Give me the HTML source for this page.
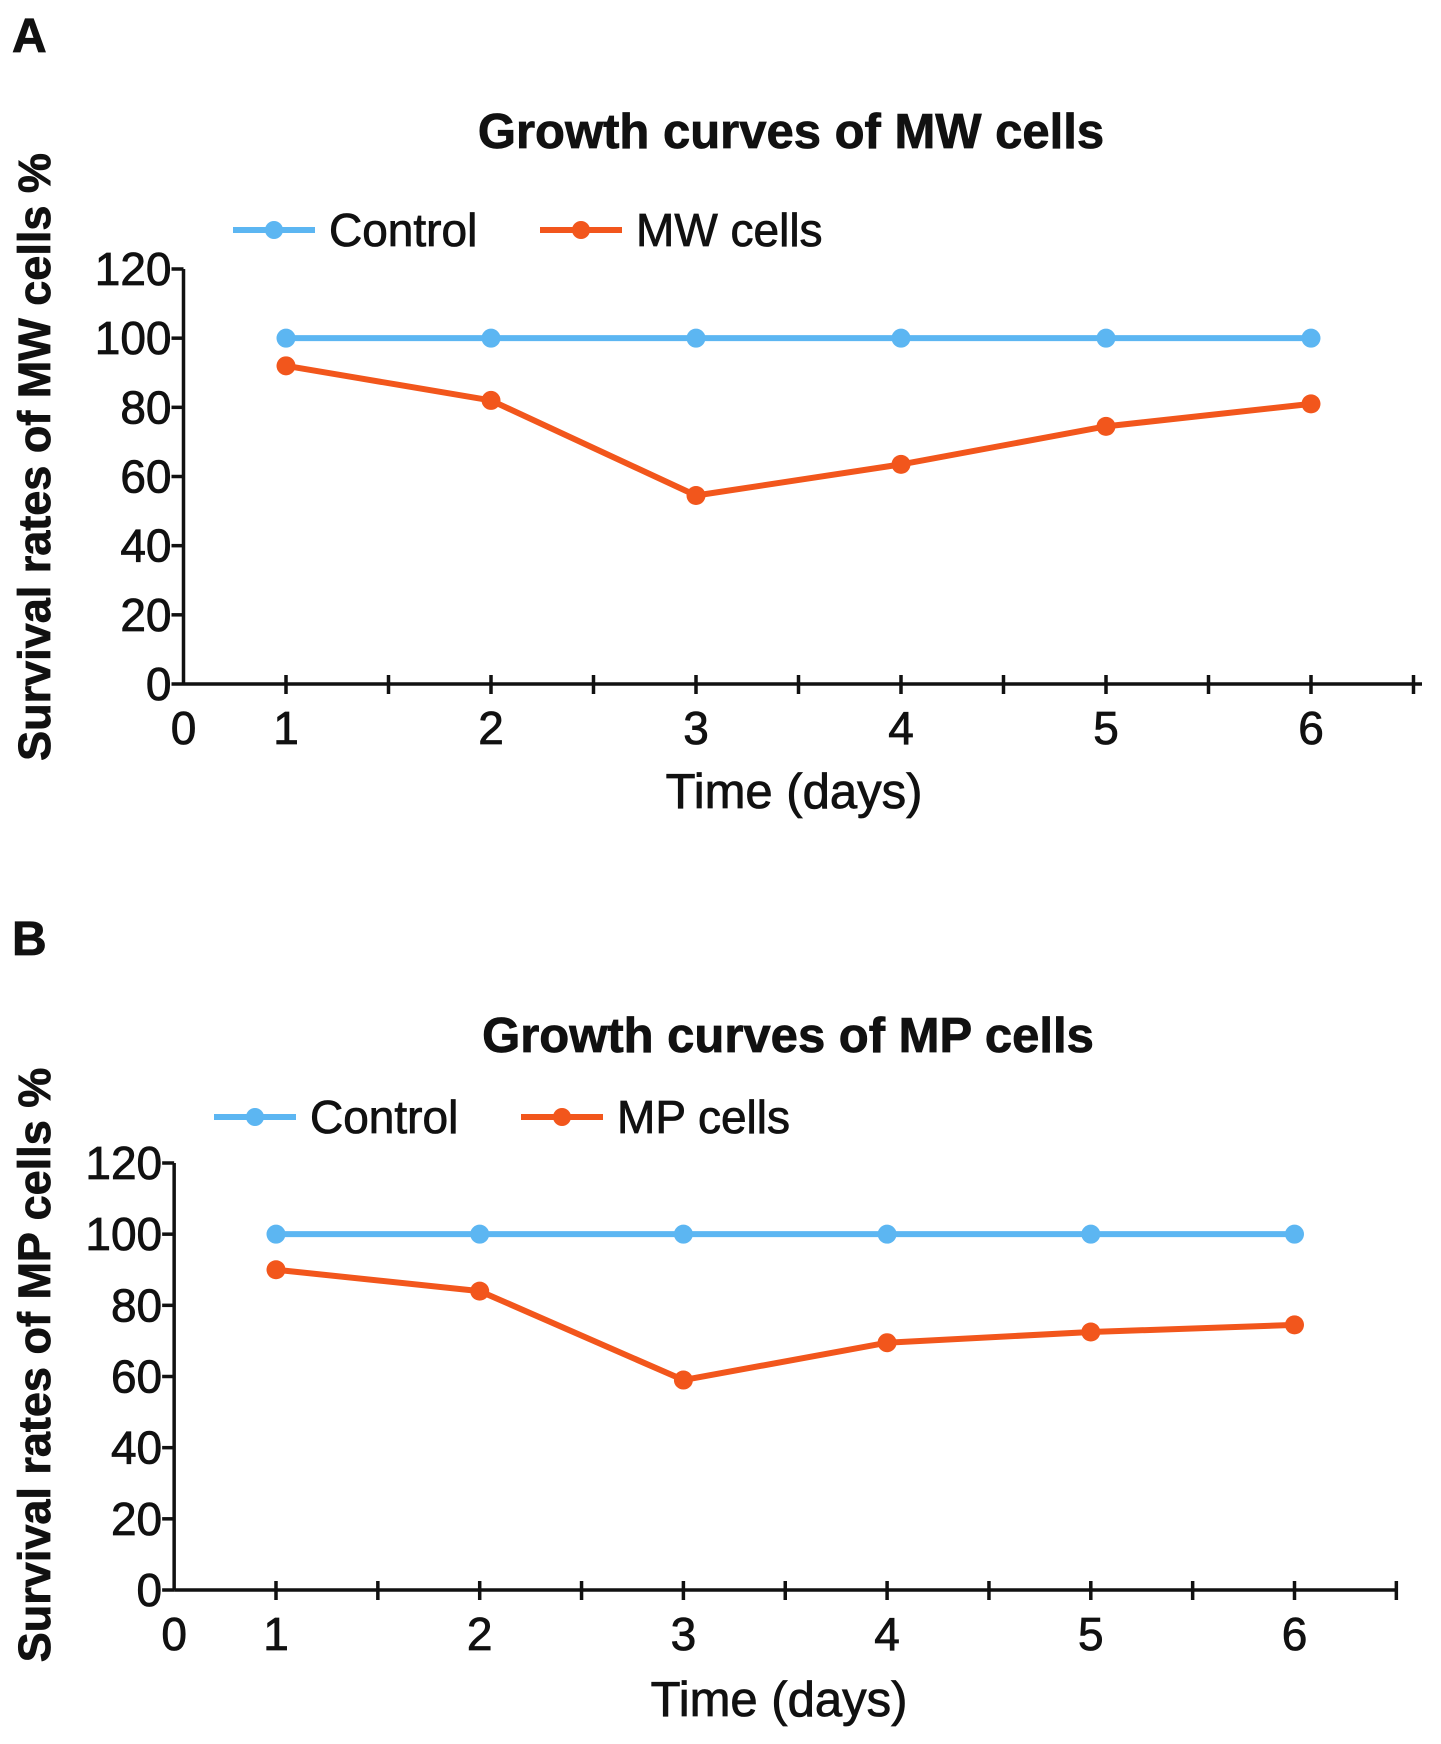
<!DOCTYPE html>
<html><head><meta charset="utf-8"><style>
html,body{margin:0;padding:0;background:#fff}
svg{display:block}
text{font-family:"Liberation Sans",Arial,sans-serif;fill:#111;stroke:#111;stroke-width:0.8}
</style></head><body>
<svg id="svg" width="1441" height="1744" viewBox="0 0 1441 1744" xmlns="http://www.w3.org/2000/svg"></svg>
<script>
const days = [1, 2, 3, 4, 5, 6];
const yTicks = [0, 20, 40, 60, 80, 100, 120];
const xTickLabels = ["0", "1", "2", "3", "4", "5", "6"];
const controlA = [100, 100, 100, 100, 100, 100];
const mwCells = [92, 82, 54.5, 63.5, 74.5, 81];
const controlB = [100, 100, 100, 100, 100, 100];
const mpCells = [90, 84, 59, 69.5, 72.5, 74.5];

const NS = "http://www.w3.org/2000/svg";
const svg = document.getElementById('svg');
function mk(tag, attrs, parent, txt) {
  const e = document.createElementNS(NS, tag);
  for (const k in attrs) e.setAttribute(k, attrs[k]);
  if (txt !== undefined) e.textContent = txt;
  (parent || svg).appendChild(e);
  return e;
}
const BLUE = "#5cb6f2", ORANGE = "#f2561c";

function chart(cfg) {
  const g = mk('g', {});
  
  
  const xs = v => cfg.x1 + (v - 1) * cfg.unit;
  const ys = v => cfg.y0 - v / 120 * (cfg.y0 - cfg.y120);
  const ox = xs(0.5);
  let t = mk('text', {x: 12, y: cfg.letterY, 'font-size': 48, 'font-weight': 'bold'}, g, cfg.letter);
  
  
  t = mk('text', {x: cfg.titleX, y: cfg.titleY, 'font-size': 49, 'font-weight': 'bold', 'text-anchor': 'middle'}, g, cfg.title);
  
  
  const lg = mk('g', {}, g);
  
  
  const ents = [[cfg.leg[0], BLUE, 'Control'], [cfg.leg[1], ORANGE, cfg.seriesName]];
  ents.forEach(([lx, c, lab]) => {
    const eg = mk('g', {}, lg);
    
    
    mk('line', {x1: lx, x2: lx + 82, y1: cfg.legY, y2: cfg.legY, stroke: c, 'stroke-width': 6}, eg);
    mk('circle', {cx: lx + 41, cy: cfg.legY, r: 9, fill: c}, eg);
    mk('text', {x: lx + 96, y: cfg.legY + 16, 'font-size': 46}, eg, lab);
  });
  const ax = mk('g', {stroke: '#111', 'stroke-width': 3.5}, g);
  
  
  mk('line', {x1: ox, x2: ox, y1: ys(120), y2: cfg.y0}, ax);
  mk('line', {x1: ox, x2: cfg.xEnd, y1: cfg.y0, y2: cfg.y0}, ax);
  yTicks.forEach(v => {
    mk('line', {x1: ox - 12, x2: ox, y1: ys(v), y2: ys(v)}, ax);
    const tt = mk('text', {x: ox - 12, y: ys(v) + 16, 'font-size': 46, 'text-anchor': 'end'}, g, String(v));
    
    
  });
  for (let v = 1; v <= 6.5; v += 0.5) {
    mk('line', {x1: xs(v), x2: xs(v), y1: cfg.y0 - 9, y2: cfg.y0 + 10}, ax);
  }
  xTickLabels.forEach((lab, i) => {
    const px = i === 0 ? ox : xs(i);
    const tt = mk('text', {x: px, y: cfg.y0 + 60, 'font-size': 46, 'text-anchor': 'middle'}, g, lab);
    
    
  });
  t = mk('text', {x: cfg.xtX, y: cfg.xtY, 'font-size': 49, 'text-anchor': 'middle'}, g, 'Time (days)');
  
  
  t = mk('text', {x: 0, y: 0, 'font-size': 45, 'font-weight': 'bold', 'text-anchor': 'middle', transform: `translate(${cfg.ytX},${cfg.ytY}) rotate(-90)`}, g, cfg.yTitle);
  
  
  [[cfg.control, BLUE, 'control-series'], [cfg.series, ORANGE, cfg.seriesKey]].forEach(([vals, c, nm]) => {
    const sg = mk('g', {}, g);
    
    
    const pts = days.map((d, i) => xs(d) + ',' + ys(vals[i])).join(' ');
    mk('polyline', {points: pts, fill: 'none', stroke: c, 'stroke-width': 6, 'stroke-linejoin': 'round'}, sg);
    days.forEach((d, i) => {
      const p = mk('circle', {cx: xs(d), cy: ys(vals[i]), r: 9.5, fill: c}, sg);
      
      
    });
  });
}

chart({name: 'chart-a', letter: 'A', letterY: 52, title: 'Growth curves of MW cells', titleX: 791, titleY: 148,
  leg: [233, 540], legY: 230, seriesName: 'MW cells', seriesKey: 'mw-cells-series',
  x1: 286, unit: 205, xEnd: 1422, y0: 684, y120: 269,
  xtX: 794, xtY: 808, ytX: 50, ytY: 457, yTitle: 'Survival rates of MW cells %',
  control: controlA, series: mwCells});
chart({name: 'chart-b', letter: 'B', letterY: 955, title: 'Growth curves of MP cells', titleX: 788, titleY: 1052,
  leg: [214, 521], legY: 1117, seriesName: 'MP cells', seriesKey: 'mp-cells-series',
  x1: 276, unit: 203.7, xEnd: 1396, y0: 1590, y120: 1163,
  xtX: 779, xtY: 1716, ytX: 50, ytY: 1365, yTitle: 'Survival rates of MP cells %',
  control: controlB, series: mpCells});
</script>
</body></html>
